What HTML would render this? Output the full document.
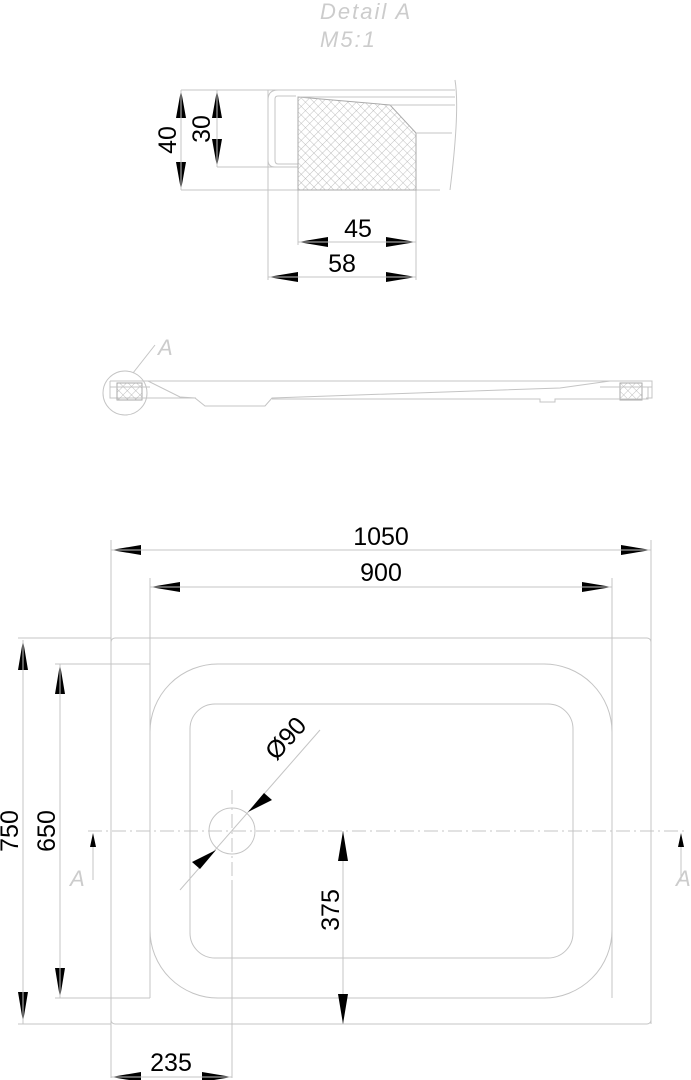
<!DOCTYPE html>
<html><head><style>html,body{margin:0;padding:0;background:#fff}svg{display:block}</style></head>
<body>
<svg width="691" height="1080" viewBox="0 0 691 1080" xmlns="http://www.w3.org/2000/svg" font-family="Liberation Sans, sans-serif">
<defs>
<pattern id="h" width="6" height="6" patternUnits="userSpaceOnUse" patternTransform="rotate(45)">
<path d="M0 0H6M0 0V6" stroke="#aaa" stroke-width="0.7" fill="none"/>
</pattern>
</defs>
<g fill="none" stroke="#c4c4c4" stroke-width="1">
<path d="M181 90H455M217 167H298M181 190H440"/>
<path d="M296 96H278Q275 96 275 99V160Q275 164 278 164H298"/>
<path d="M268 90V280M416 190V280M298 190V245"/>
<path d="M268 100Q268 90 278 90"/>
<path d="M268 100V160Q268 167 275 167"/>
<path d="M298 97L390 105L416 133V190H298Z" fill="url(#h)" stroke="#aaa"/>
<path d="M300 97H455M390 105H455M416 133H452"/>
<path d="M455 80Q460 110 450 190"/>
<circle cx="125" cy="393" r="22"/>
<path d="M133 373L155 345"/>
<path d="M110 381H652V398H646M110 381V398H140"/>
<rect x="117" y="383" width="25" height="17" fill="url(#h)" stroke="#aaa"/>
<rect x="620" y="383" width="22" height="17" fill="url(#h)" stroke="#aaa"/>
<path d="M148 381L180 397L195 398L205 406H265L272 398L560 388L610 381M140 398H196M272 399H540V402H555V399H648V387"/>
<path d="M110 387H150M600 387H652"/>
<rect x="111" y="638" width="540" height="386" rx="4"/>
<rect x="150" y="664" width="462" height="334" rx="68"/>
<rect x="190" y="704" width="383" height="254" rx="25"/>
<circle cx="232" cy="831" r="23"/>
<path d="M88 831H688" stroke-dasharray="14 4 2 4"/>
<path d="M232 790V880" stroke-dasharray="14 4 2 4"/>
<path d="M232 880V1078"/>
<path d="M111 540V1078M651 540V1024M150 578V998M612 578V998M18 638H111M55 664H150M18 1024H111M55 998H150M343 831V1024"/>
<path d="M180 890L320 730"/>
<path d="M93 838V880M681 838V880"/>
</g>
<g fill="#000">
<path d="M181 90l-5 28h10zM181 190l-5-28h10zM217 90l-5 28h10zM217 167l-5-28h10z"/>
<path d="M298 242l30-5v10zM416 242l-30-5v10zM268 277l30-5v10zM416 277l-30-5v10z"/>
<path d="M111 550l30-5v10zM651 550l-30-5v10zM150 587l30-5v10zM612 587l-30-5v10z"/>
<path d="M23 640l-5 30h10zM23 1022l-5-30h10zM60 664l-5 30h10zM60 998l-5-30h10z"/>
<path d="M343 831l-5 30h10zM343 1024l-5-30h10zM111 1077l30-5v10zM232 1077l-30-5v10z"/>
<path d="M248 812l16-19l8 7zM216 850l-16 19l-8-7z"/>
<path d="M93 833l-3 14h6zM681 833l-3 14h6z"/>
</g>
<g stroke="#c4c4c4"><path d="M23 640V1024M60 664V998M181 90V190M217 90V167M298 242H416M268 277H416M111 550H651M150 587H612M111 1077H232"/></g>
<g font-size="25" fill="#000" text-anchor="middle">
<text x="358" y="237">45</text>
<text x="342" y="272">58</text>
<text x="381" y="545">1050</text>
<text x="381" y="581">900</text>
<text x="171" y="1071">235</text>
<text transform="translate(176 140) rotate(-90)">40</text>
<text transform="translate(210 129) rotate(-90)">30</text>
<text transform="translate(18 831) rotate(-90)">750</text>
<text transform="translate(55 831) rotate(-90)">650</text>
<text transform="translate(339 910) rotate(-90)">375</text>
<text transform="translate(292 744) rotate(-48)">Ø90</text>
</g>
<g font-size="22" fill="#ccc" font-style="italic" letter-spacing="2">
<text x="320" y="19">Detail  A</text>
<text x="320" y="47">M5:1</text>
<text x="158" y="355">A</text>
<text x="70" y="886">A</text>
<text x="676" y="886">A</text>
</g>
</svg>
</body></html>
